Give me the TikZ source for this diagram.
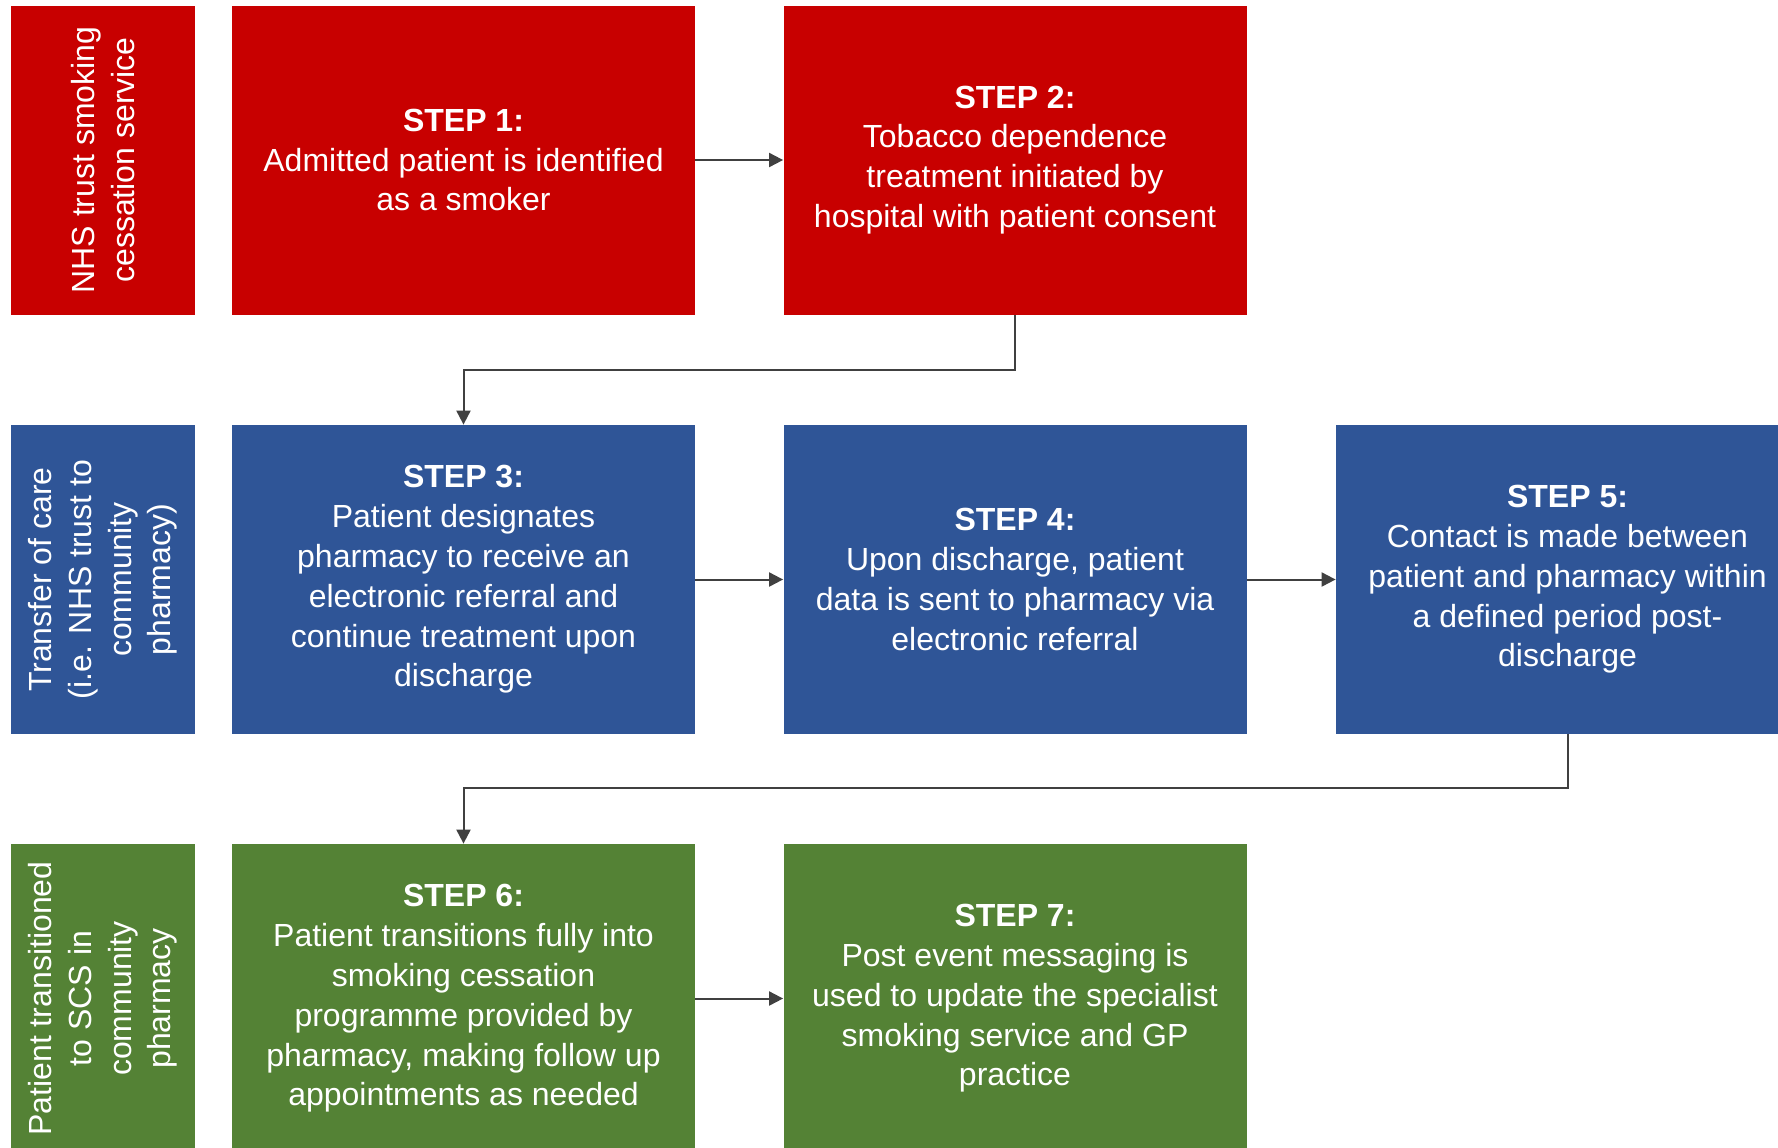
\documentclass[tikz,border=0pt]{standalone}
\usepackage{fontspec}
\setmainfont{Liberation Sans}
\usepackage{tikz}
\usetikzlibrary{arrows.meta,calc}
\definecolor{trustred}{HTML}{C80000}
\definecolor{careblue}{HTML}{2F5597}
\definecolor{scsgreen}{HTML}{548235}
\definecolor{linkgray}{HTML}{404040}
\tikzset{
  stepbox/.style={draw=none,fill=#1,text=white,align=center,inner sep=0pt,
    minimum width=231.5pt,minimum height=154.5pt,
    font=\fontsize{16}{19.9}\selectfont},
  lanebox/.style={draw=none,fill=#1,text=white,align=center,inner sep=0pt,
    rotate=90,minimum width=154.5pt,minimum height=92pt,
    font=\fontsize{16}{19.9}\selectfont},
  link/.style={draw=linkgray,line width=1pt,-{Triangle[length=7pt,width=7pt]}}
}

\begin{document}
\begin{tikzpicture}[x=0.5pt,y=-0.5pt]
      \clip (0,0) rectangle (1778,1147);
      \fill[white] (0,0) rectangle (1778,1147);

      % lanes
      \node[lanebox=trustred] (lane1) at (103,160) {NHS trust smoking\\cessation service};
      \node[lanebox=careblue] (lane2) at (103,579.5) {Transfer of care\\(i.e. NHS trust to\\community\\pharmacy)};
      \node[lanebox=scsgreen] (lane3) at (103,998.5) {Patient transitioned\\to SCS in\\community\\pharmacy};

      % steps
      \node[stepbox=trustred] (s1) at (463.5,160) {\textbf{STEP 1:}\\Admitted patient is identified\\as a smoker};
      \node[stepbox=trustred] (s2) at (1015,160) {\textbf{STEP 2:}\\Tobacco dependence\\treatment initiated by\\hospital with patient consent};
      \node[stepbox=careblue] (s3) at (463.5,579.5) {\textbf{STEP 3:}\\Patient designates\\pharmacy to receive an\\electronic referral and\\continue treatment upon\\discharge};
      \node[stepbox=careblue] (s4) at (1015,579.5) {\textbf{STEP 4:}\\Upon discharge, patient\\data is sent to pharmacy via\\electronic referral};
      \node[stepbox=careblue] (s5) at (1567.5,579.5) {\textbf{STEP 5:}\\Contact is made between\\patient and pharmacy within\\a defined period post-\\discharge};
      \node[stepbox=scsgreen] (s6) at (463.5,998.5) {\textbf{STEP 6:}\\Patient transitions fully into\\smoking cessation\\programme provided by\\pharmacy, making follow up\\appointments as needed};
      \node[stepbox=scsgreen] (s7) at (1015,998.5) {\textbf{STEP 7:}\\Post event messaging is\\used to update the specialist\\smoking service and GP\\practice};

      % connectors
      \draw[link] (s1) -- (s2);
      \draw[link] (s2.south) -- ++(0,55) -| (s3.north);
      \draw[link] (s3) -- (s4);
      \draw[link] (s4) -- (s5);
      \draw[link] (s5.south) -- ++(0,54) -| (s6.north);
      \draw[link] (s6) -- (s7);
    \end{tikzpicture}
\end{document}
